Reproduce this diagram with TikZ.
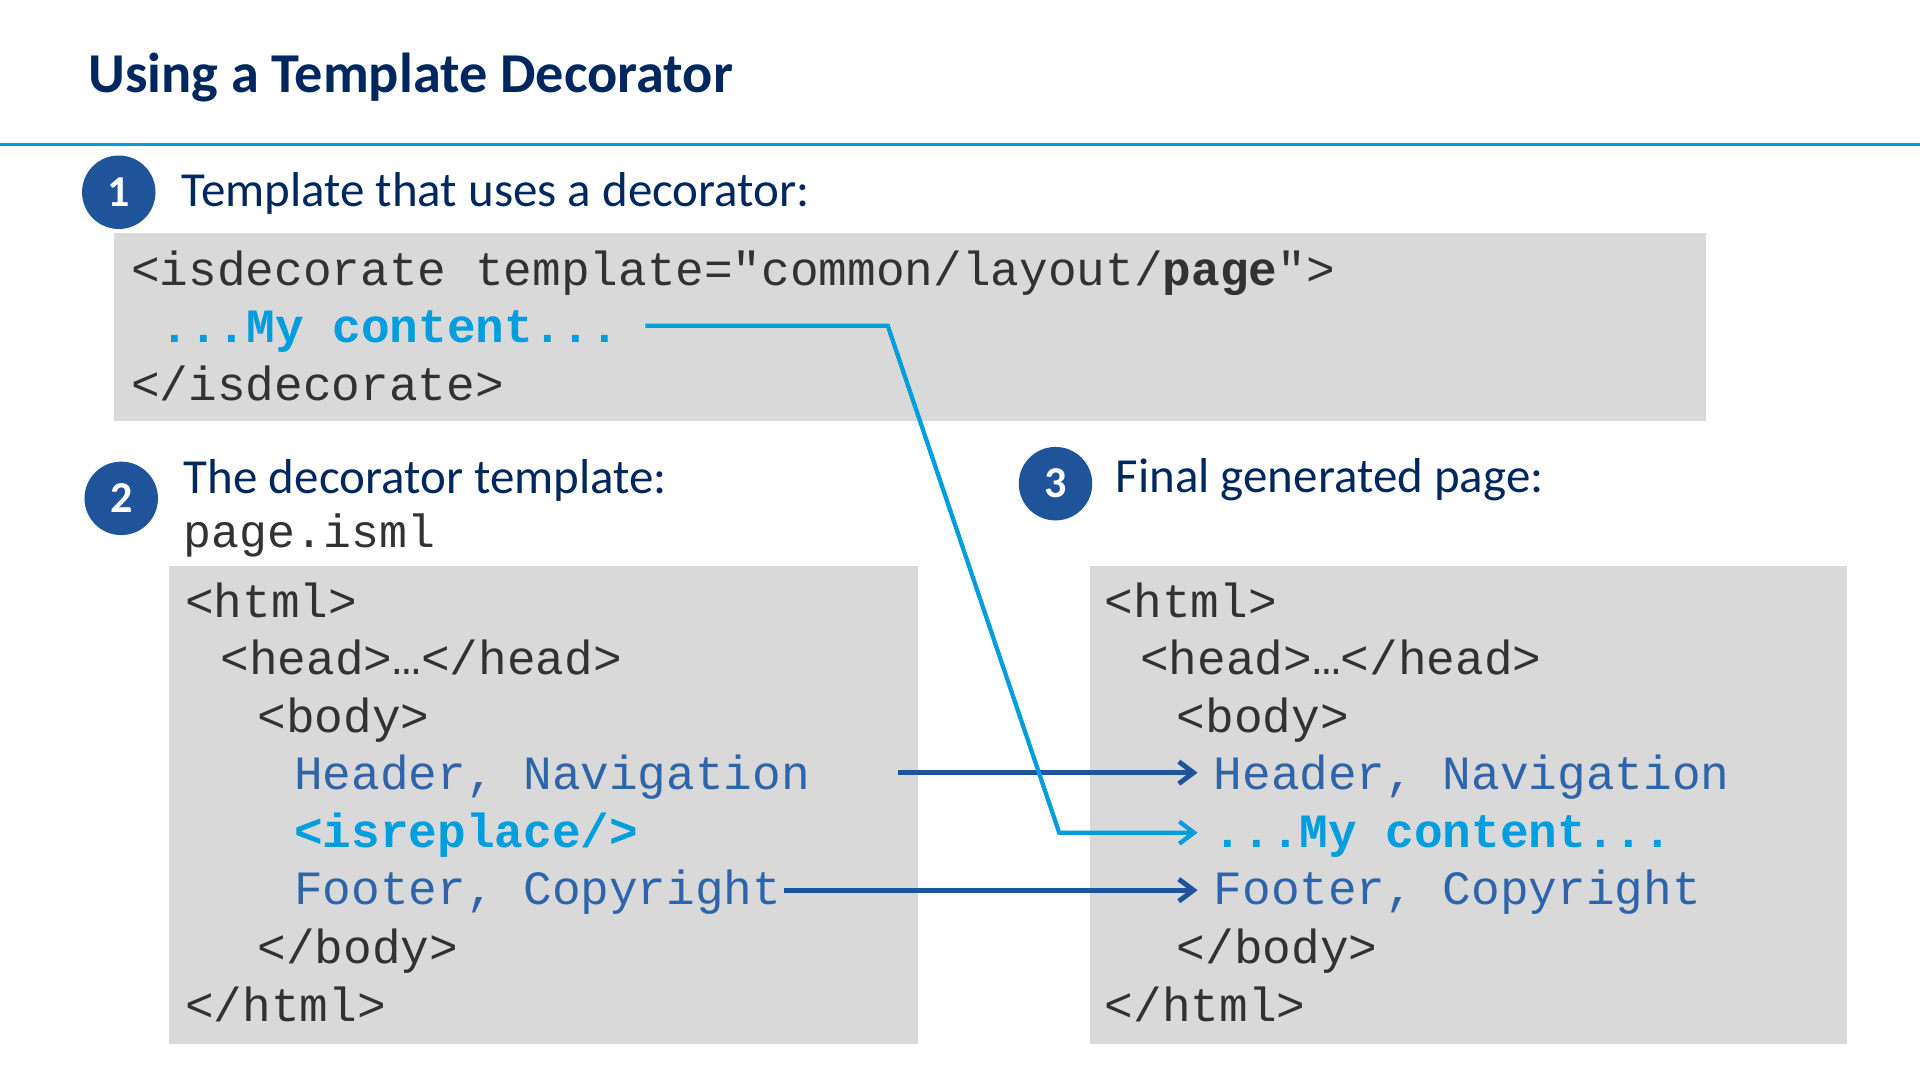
\documentclass[tikz,border=0pt]{standalone}
\usepackage{fontspec}
\setmainfont{Carlito}
\setmonofont{Liberation Mono}
\definecolor{navy}{RGB}{0,40,95}
\definecolor{cblue}{RGB}{31,84,155}
\definecolor{cyanb}{RGB}{0,158,222}
\definecolor{boxg}{RGB}{217,217,217}
\definecolor{codeg}{RGB}{50,50,50}
\definecolor{codeb}{RGB}{46,100,170}
\usetikzlibrary{arrows.meta}
\tikzset{
 boxx/.style={fill=boxg,draw=none},
 code/.style={anchor=base west,inner sep=0pt,font=\ttfamily\fontsize{39}{44}\selectfont,text=codeg},
 bcode/.style={code,text=codeb},
 ccode/.style={code,text=cyanb,font=\ttfamily\bfseries\fontsize{39}{44}\selectfont},
 head/.style={anchor=west,inner sep=0pt,font=\fontsize{40}{46}\selectfont,text=navy},
 num/.style={circle,fill=cblue,minimum size=60pt,inner sep=0pt,text=white,font=\bfseries\fontsize{36}{40}\selectfont},
 arr/.style={draw=cblue,line width=4pt,-{Straight Barb[length=12pt,width=18pt]}},
 carr/.style={draw=cyanb,line width=3.5pt,-{Straight Barb[length=12pt,width=18pt]}},
}
\begin{document}
\begin{tikzpicture}[x=1pt,y=-1pt]
\useasboundingbox (0,0) rectangle (1568,882);
\fill[white] (0,0) rectangle (1568,882);
\node[anchor=west,inner sep=0pt,font=\bfseries\fontsize{46}{52}\selectfont,text=navy] (title) at (72,63) {Using a Template Decorator};
\draw[cyanb,line width=3pt] (0,118) -- (1568,118);
% circles and headings
\node[num] (n1) at (97,157) {1};
\node[head] (h1) at (148,158) {Template that uses a decorator:};
\node[num] (n2) at (99,407) {2};
\node[head] (h2) at (150,392) {The decorator template:};
\node[code,font=\ttfamily\fontsize{38}{44}\selectfont] (fn) at (150,447) {page.isml};
\node[num] (n3) at (862,395) {3};
\node[head] (h3) at (911,392) {Final generated page:};
% boxes
\fill[boxx] (93,190) rectangle (1393,344);
\fill[boxx] (138,462) rectangle (750,853);
\fill[boxx] (890,462) rectangle (1508,853);
% box 1
\node[code] (a1) at (107,233) {<isdecorate template="common/layout/\textbf{page}">};
\node[ccode] (a2) at (131,280) {...My content...};
\node[code] (a3) at (107,327) {</isdecorate>};
% box 2
\node[code] (b1) at (151,504) {<html>};
\node[code] (b2) at (180,551) {<head>…</head>};
\node[code] (b3) at (210,598) {<body>};
\node[bcode] (b4) at (240,645) {Header, Navigation};
\node[ccode] (b5) at (240,692) {<isreplace/>};
\node[bcode] (b6) at (240,739) {Footer, Copyright};
\node[code] (b7) at (210,787) {</body>};
\node[code] (b8) at (151,834) {</html>};
% box 3
\node[code] (c1) at (902,504) {<html>};
\node[code] (c2) at (931,551) {<head>…</head>};
\node[code] (c3) at (961,598) {<body>};
\node[bcode] (c4) at (991,645) {Header, Navigation};
\node[ccode] (c5) at (991,692) {...My content...};
\node[bcode] (c6) at (991,739) {Footer, Copyright};
\node[code] (c7) at (961,787) {</body>};
\node[code] (c8) at (902,834) {</html>};
% connectors
\coordinate (s1) at (733,631);
\coordinate (e1) at (978,631);
\coordinate (s2) at (640,727);
\coordinate (e2) at (978,727);
\coordinate (s3) at (527,266);
\coordinate (k1) at (725,266);
\coordinate (k2) at (865,680);
\coordinate (e3) at (978,680);
\draw[arr] (s1) -- (e1);
\draw[arr] (s2) -- (e2);
\draw[carr] (s3) -- (k1) -- (k2) -- (e3);
\end{tikzpicture}
\end{document}
